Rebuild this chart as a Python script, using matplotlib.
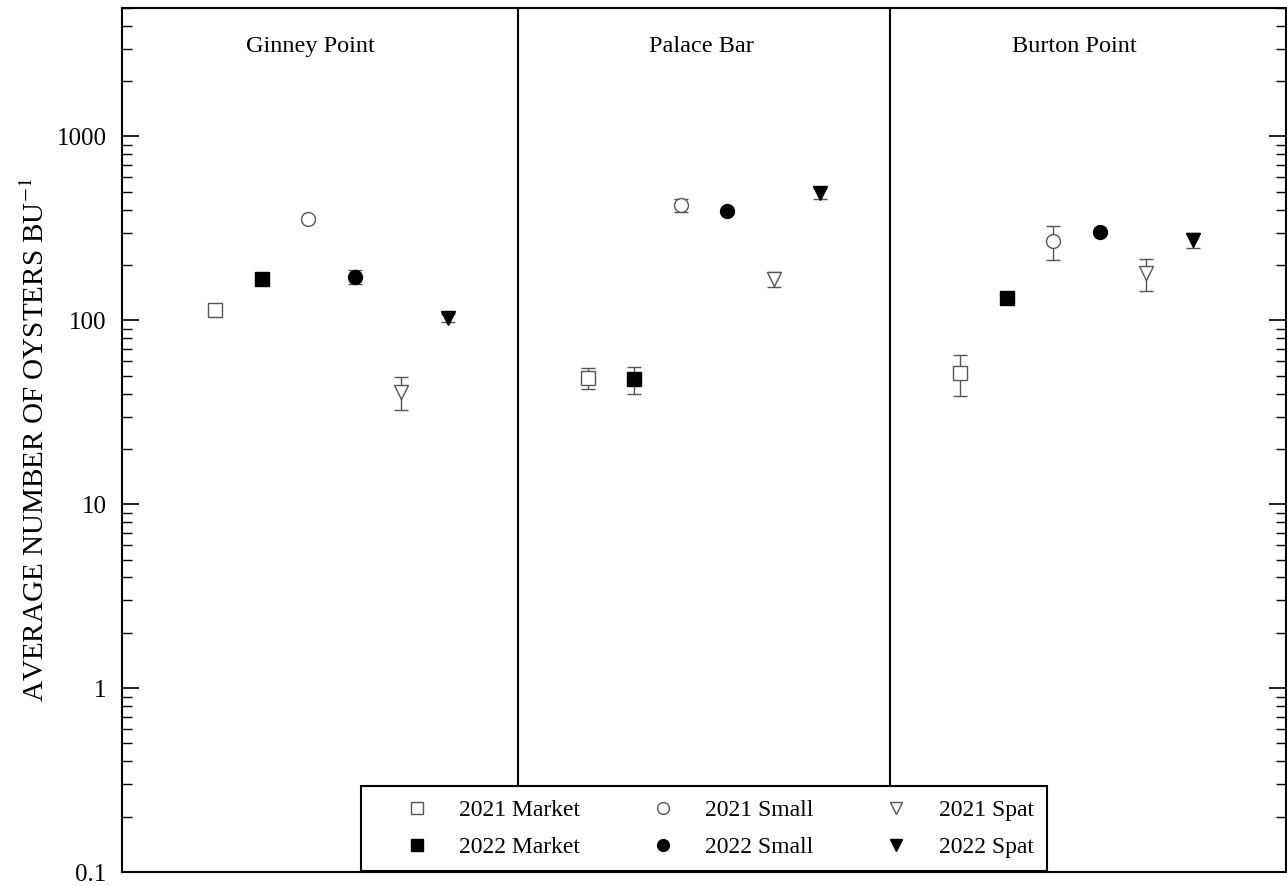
import matplotlib.pyplot as plt
import numpy as np

plt.rcParams['font.family'] = ['Liberation Serif', 'DejaVu Serif']
plt.rcParams['mathtext.fontset'] = 'stix'

sites = ["Ginney Point", "Palace Bar", "Burton Point"]
groups = ["2021 Market", "2022 Market", "2021 Small", "2022 Small", "2021 Spat", "2022 Spat"]

# mean oysters per bushel, one row per group, one column per site
means = {
    "2021 Market": [114, 48.6, 52],
    "2022 Market": [167, 48, 132],
    "2021 Small": [355, 422, 269],
    "2022 Small": [172, 392, 301],
    "2021 Spat": [41, 167, 180],
    "2022 Spat": [103, 491, 273],
}
errs = {
    "2021 Market": [3, 6.5, 13],
    "2022 Market": [3, 8, 3],
    "2021 Small": [6, 35, 55],
    "2022 Small": [15, 8, 6],
    "2021 Spat": [8.5, 16, 35],
    "2022 Spat": [5, 36, 26],
}

styles = {
    "2021 Market": dict(marker='s', mfc='white', mec='#555555'),
    "2022 Market": dict(marker='s', mfc='black', mec='black'),
    "2021 Small": dict(marker='o', mfc='white', mec='#555555'),
    "2022 Small": dict(marker='o', mfc='black', mec='black'),
    "2021 Spat": dict(marker='v', mfc='white', mec='#555555'),
    "2022 Spat": dict(marker='v', mfc='black', mec='black'),
}

fig = plt.figure(figsize=(12.87, 8.86), dpi=100)
ax = fig.add_axes([0.0948, 0.0158, 0.9045, 0.9752])

# x layout: each site gets 6 slots, sites separated by a gap
site_start = [2, 10, 18]
for gi, g in enumerate(groups):
    xs = [s + gi for s in site_start]
    ax.errorbar(xs, means[g], yerr=errs[g], fmt='none', ecolor='#555555',
                elinewidth=1.0, capsize=5, capthick=1.0, zorder=2)
    ax.plot(xs, means[g], linestyle='none', markersize=10, markeredgewidth=1.0,
            label=g, zorder=3, **styles[g])

for xd in [8.5, 16.5]:
    ax.axvline(xd, color='black', linewidth=1.5, zorder=1)

title_x = [4.05, 12.45, 20.45]
for tx, name in zip(title_x, sites):
    ax.text(tx, 0.955, name, transform=ax.get_xaxis_transform(), ha='center',
            va='center', fontsize=17.5)

ax.set_yscale('log')
ax.set_ylim(0.1, 5000)
ax.set_xlim(0, 25)
ax.set_xticks([])
ax.set_yticks([0.1, 1, 10, 100, 1000])
ax.set_yticklabels(["0.1", "1", "10", "100", "1000"])
ax.tick_params(axis='y', which='major', direction='in', length=12, width=1.2,
               right=True, labelsize=18, pad=11)
ax.tick_params(axis='y', which='minor', direction='in', length=7, width=1.0, right=True)
for sp in ax.spines.values():
    sp.set_linewidth(1.5)

ax.set_ylabel("AVERAGE NUMBER OF OYSTERS BU$^{-1}$", fontsize=21, labelpad=5)

leg = ax.legend(loc='lower center', bbox_to_anchor=(0.5, 0.001), ncol=3, fontsize=17,
                frameon=True, fancybox=False, framealpha=1, edgecolor='black',
                markerscale=0.85, handlelength=3.6, handletextpad=0.0, columnspacing=1.7,
                borderpad=0.55, labelspacing=0.67, borderaxespad=0)
leg.get_frame().set_linewidth(1.5)

fig.savefig("out.png", dpi=100)
